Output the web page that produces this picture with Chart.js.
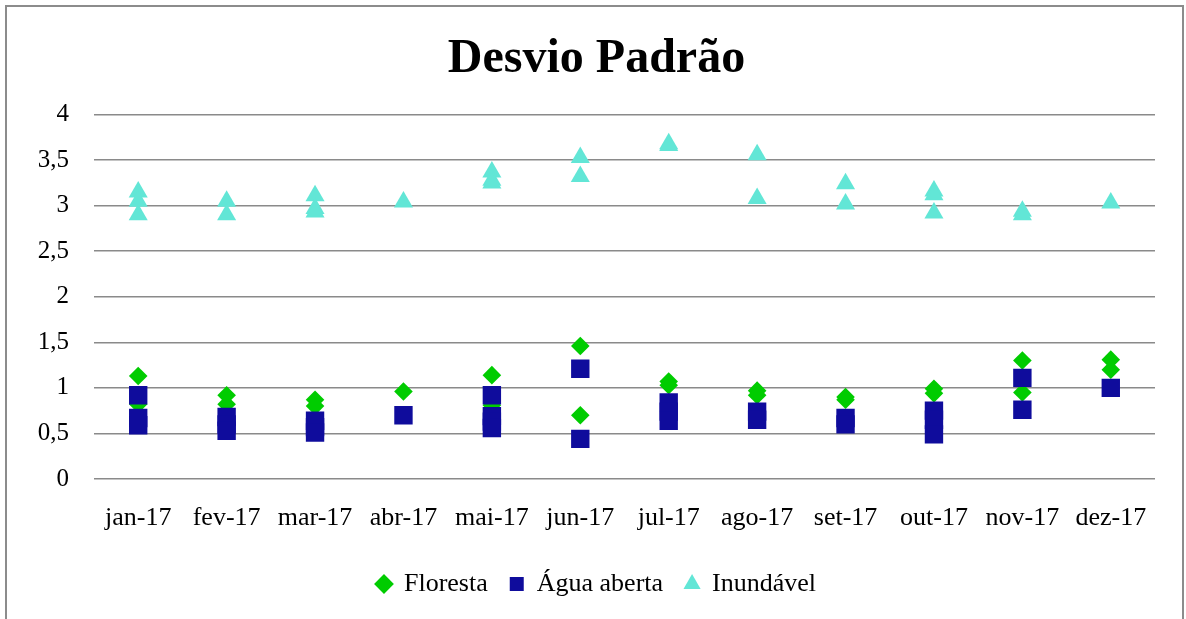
<!DOCTYPE html>
<html>
<head>
<meta charset="utf-8">
<script src="https://cdn.jsdelivr.net/npm/chart.js@4/dist/chart.umd.min.js"></script>
<style>
  html, body { margin: 0; padding: 0; background: #fff; overflow: hidden; width: 1186px; height: 619px; }
  #frame { position: absolute; left: 5px; top: 5px; width: 1175px; height: 640px; border: 2px solid #8c8c8c; }
  #wrap { position: absolute; left: 0; top: 0; width: 1186px; height: 619px; }
</style>
</head>
<body>
<div id="frame"></div>
<div id="wrap"><canvas id="sdChart"></canvas></div>
<script>
// ------------------------------
// Data (one list of values per month)
// ------------------------------
const months = ["jan-17", "fev-17", "mar-17", "abr-17", "mai-17", "jun-17",
                "jul-17", "ago-17", "set-17", "out-17", "nov-17", "dez-17"];

const floresta = [
    [1.13, 0.82], [0.92, 0.82], [0.87, 0.80], [0.96], [1.14, 0.81], [1.46, 0.70],
    [1.07, 1.03], [0.97, 0.92], [0.90, 0.87], [0.99, 0.94], [1.30, 0.95], [1.31, 1.20]
];

const aguaAberta = [
    [0.92, 0.67, 0.59], [0.68, 0.60, 0.53], [0.64, 0.57, 0.51], [0.70],
    [0.92, 0.69, 0.63, 0.56], [1.21, 0.44], [0.84, 0.74, 0.64], [0.74, 0.65],
    [0.67, 0.60], [0.75, 0.65, 0.49], [1.11, 0.76], [1.00]
];

const inundavel = [
    [3.15, 3.05, 2.90], [3.05, 2.90], [3.11, 2.97, 2.93], [3.04],
    [3.37, 3.28, 3.25], [3.53, 3.32], [3.68, 3.66], [3.56, 3.08],
    [3.24, 3.02], [3.16, 3.12, 2.92], [2.94, 2.90], [3.03]
];

const yMin = 0;
const yMax = 4;
const yStep = 0.5;

// month list -> {x, y} points for the category axis
function toPoints(values) {
    return months.flatMap((m, i) => values[i].map(v => ({ x: m, y: v })));
}

// ------------------------------
// Chart.js Code
// ------------------------------
const serif = "'Liberation Serif', 'Times New Roman', serif";
const ctx = document.getElementById("sdChart");

new Chart(ctx, {
    type: "line",
    data: {
        labels: months,
        datasets: [
            {
                label: "Floresta",
                data: toPoints(floresta),
                showLine: false,
                pointStyle: "rectRot",
                pointRadius: 9.3,
                pointHoverRadius: 9.3,
                backgroundColor: "#00cc00",
                borderColor: "#00cc00",
                borderWidth: 0,
                pointBorderWidth: 0,
                order: 2
            },
            {
                label: "Água aberta",
                data: toPoints(aguaAberta),
                showLine: false,
                pointStyle: "rect",
                pointRadius: 13,
                pointHoverRadius: 13,
                backgroundColor: "#0f0c9c",
                borderColor: "#0f0c9c",
                borderWidth: 0,
                pointBorderWidth: 0,
                order: 1
            },
            {
                label: "Inundável",
                data: toPoints(inundavel),
                showLine: false,
                pointStyle: "triangle",
                pointRadius: 11,
                pointHoverRadius: 11,
                backgroundColor: "#62e6d6",
                borderColor: "#62e6d6",
                borderWidth: 0,
                pointBorderWidth: 0,
                order: 0
            }
        ]
    },

    options: {
        responsive: true,
        maintainAspectRatio: false,
        animation: false,
        events: [],
        layout: {
            padding: { left: 38, right: 31, top: 0, bottom: 12 }
        },
        plugins: {
            title: {
                display: true,
                text: "Desvio Padrão",
                color: "#000",
                font: { family: serif, size: 48, weight: "bold" },
                padding: { top: 31, bottom: 26 }
            },
            legend: {
                position: "bottom",
                labels: {
                    usePointStyle: true,
                    boxHeight: 14,
                    boxWidth: 14,
                    padding: 22,
                    color: "#000",
                    font: { family: serif, size: 26 },
                    sort: (a, b) => a.datasetIndex - b.datasetIndex
                }
            },
            tooltip: { enabled: false }
        },
        scales: {
            x: {
                offset: true,
                grid: { display: false, drawTicks: false },
                border: { display: false },
                ticks: {
                    color: "#000",
                    font: { family: serif, size: 26 },
                    padding: 24,
                    maxRotation: 0,
                    autoSkip: false
                },
                afterFit: (scale) => { scale.height = 70; }
            },
            y: {
                min: yMin,
                max: yMax,
                ticks: {
                    stepSize: yStep,
                    color: "#000",
                    font: { family: serif, size: 25 },
                    padding: 25,
                    callback: (v) => String(v).replace(".", ",")
                },
                grid: {
                    color: "#8a8a8a",
                    lineWidth: 1.5,
                    drawTicks: false
                },
                border: { display: false },
                afterFit: (scale) => { scale.width = 56; }
            }
        }
    }
});
</script>
</body>
</html>
